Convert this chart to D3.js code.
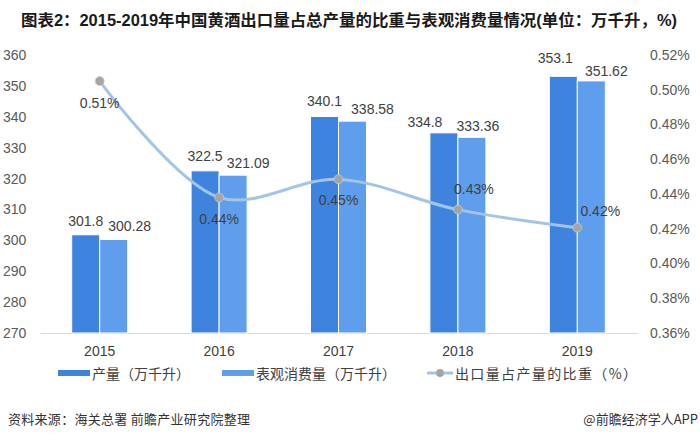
<!DOCTYPE html>
<html><head><meta charset="utf-8">
<script src="https://cdn.jsdelivr.net/npm/d3@7"></script>
<style>html,body{margin:0;padding:0;background:#fff;}svg{display:block;}</style>
</head><body>
<svg id="chart" width="700" height="438"></svg>
<script>
// ---- data ----
const years = ["2015", "2016", "2017", "2018", "2019"];
const production = [301.8, 322.5, 340.1, 334.8, 353.1];
const consumption = [300.28, 321.09, 338.58, 333.36, 351.62];
const exportShare = [0.505, 0.438, 0.4485, 0.431, 0.4206];
const exportShareLabels = ["0.51%", "0.44%", "0.45%", "0.43%", "0.42%"];
const leftTicks = [270, 280, 290, 300, 310, 320, 330, 340, 350, 360];
const rightTicks = [0.36, 0.38, 0.40, 0.42, 0.44, 0.46, 0.48, 0.50, 0.52];
const seriesNames = ["产量（万千升）", "表观消费量（万千升）", "出口量占产量的比重（%）"];

// ---- layout tweaks (label placement) ----
const prodLabelDx = [0, 0, 0, -19, -8];
const prodLabelDy = [-14, -15, -15, -11, -18];
const consLabelDx = [16, 15, 20, 6, 15];
const consLabelDy = [-13, -12, -12, -11, -10];
const lineLabelDx = [0, 0, 0, 16, 23];
const lineLabelDy = [22, 22, 21, -21, -17];

const svg = d3.select("#chart");
const FONT = "'Liberation Sans', 'Noto Sans CJK SC', sans-serif";
const CJK = "'Noto Sans CJK SC', 'Liberation Sans', sans-serif";
const darkBlue = "#3E83DD", lightBlue = "#5E9EEC", lineColor = "#A2C4E6", markerColor = "#A5A5A5";
const textColor = "#404040";

const pLeft = 40, pRight = 637, pTop = 55, pBottom = 333;
const x0 = d3.scaleBand().domain(years).range([pLeft, pRight]).padding(0);
const groupW = 56;
const x1 = d3.scaleBand().domain([0, 1]).range([0, groupW]);
const yL = d3.scaleLinear().domain([270, 360]).range([pBottom, pTop]);
const yR = d3.scaleLinear().domain([0.36, 0.52]).range([pBottom, pTop]);
const cx = d => x0(d) + x0.bandwidth() / 2;

// title
svg.append("text").attr("x", 21).attr("y", 26)
  .attr("font-family", FONT).attr("font-weight", "bold").attr("font-size", 16)
  .attr("fill", "#1a1a1a").attr("textLength", 656).attr("lengthAdjust", "spacingAndGlyphs")
  .text("图表2：2015-2019年中国黄酒出口量占总产量的比重与表观消费量情况(单位：万千升，%)");

// left axis
const gL = svg.append("g").attr("transform", `translate(${pLeft},0)`)
  .call(d3.axisLeft(yL).tickValues(leftTicks).tickSize(0).tickPadding(10).tickFormat(d3.format("d")));
gL.select(".domain").remove();
gL.selectAll("text").attr("font-family", FONT).attr("font-size", 14).attr("fill", "#595959")
  .attr("text-anchor", "start").attr("x", -37);

// right axis
const gR = svg.append("g").attr("transform", `translate(${pRight},0)`)
  .call(d3.axisRight(yR).tickValues(rightTicks).tickSize(0).tickPadding(13).tickFormat(d3.format(".2%")));
gR.select(".domain").remove();
gR.selectAll("text").attr("font-family", FONT).attr("font-size", 14).attr("fill", "#595959")
  .text(d => d.toFixed(2) + "%");

// bottom axis
const gB = svg.append("g").attr("transform", `translate(0,${pBottom})`)
  .call(d3.axisBottom(x0).tickSize(0).tickPadding(13));
gB.select(".domain").attr("stroke", "#D9D9D9").attr("stroke-width", 1);
gB.selectAll("text").attr("font-family", FONT).attr("font-size", 14).attr("fill", textColor);

// bars
const series = [production, consumption];
const colors = [darkBlue, lightBlue];
series.forEach((vals, s) => {
  svg.append("g").selectAll("rect").data(vals).join("rect")
    .attr("x", (d, i) => cx(years[i]) - groupW / 2 + x1(s))
    .attr("y", d => yL(d))
    .attr("width", x1.bandwidth())
    .attr("height", d => yL(270) - yL(d))
    .attr("fill", colors[s]).attr("stroke", "#fff").attr("stroke-width", 1);
});

// bar labels
svg.append("g").selectAll("text").data(production).join("text")
  .attr("x", (d, i) => cx(years[i]) - groupW / 2 + x1(0) + x1.bandwidth() / 2 + prodLabelDx[i])
  .attr("y", (d, i) => yL(d) + prodLabelDy[i])
  .attr("dominant-baseline", "central").attr("text-anchor", "middle")
  .attr("font-family", FONT).attr("font-size", 14).attr("fill", textColor)
  .text(d => d);
svg.append("g").selectAll("text").data(consumption).join("text")
  .attr("x", (d, i) => cx(years[i]) - groupW / 2 + x1(1) + x1.bandwidth() / 2 + consLabelDx[i])
  .attr("y", (d, i) => yL(d) + consLabelDy[i])
  .attr("dominant-baseline", "central").attr("text-anchor", "middle")
  .attr("font-family", FONT).attr("font-size", 14).attr("fill", textColor)
  .text(d => d);

// line
const line = d3.line().x((d, i) => cx(years[i])).y(d => yR(d)).curve(d3.curveCatmullRom.alpha(0.5));
svg.append("path").datum(exportShare).attr("d", line)
  .attr("fill", "none").attr("stroke", lineColor).attr("stroke-width", 3).attr("stroke-linecap", "round");
svg.append("g").selectAll("circle").data(exportShare).join("circle")
  .attr("cx", (d, i) => cx(years[i])).attr("cy", d => yR(d)).attr("r", 4.5)
  .attr("fill", markerColor).attr("stroke", "#C9C9C9").attr("stroke-width", 0.8);
svg.append("g").selectAll("text").data(exportShare).join("text")
  .attr("x", (d, i) => cx(years[i]) + lineLabelDx[i])
  .attr("y", (d, i) => yR(d) + lineLabelDy[i])
  .attr("dominant-baseline", "central").attr("text-anchor", "middle")
  .attr("font-family", FONT).attr("font-size", 14).attr("fill", textColor)
  .text((d, i) => exportShareLabels[i]);

// legend
const lg = svg.append("g").attr("font-family", CJK).attr("font-size", 14).attr("fill", textColor);
const ly = 373;
lg.append("rect").attr("x", 58).attr("y", ly - 3).attr("width", 32).attr("height", 6).attr("fill", darkBlue);
lg.append("text").attr("x", 92).attr("y", ly).attr("dominant-baseline", "central").text(seriesNames[0]);
lg.append("rect").attr("x", 222).attr("y", ly - 3).attr("width", 32).attr("height", 6).attr("fill", lightBlue);
lg.append("text").attr("x", 256).attr("y", ly).attr("dominant-baseline", "central").text(seriesNames[1]);
lg.append("line").attr("x1", 427).attr("x2", 453).attr("y1", ly).attr("y2", ly)
  .attr("stroke", lineColor).attr("stroke-width", 3);
lg.append("circle").attr("cx", 440).attr("cy", ly).attr("r", 4).attr("fill", markerColor);
lg.append("text").attr("x", 455).attr("y", ly).attr("dominant-baseline", "central")
  .attr("textLength", 182).attr("lengthAdjust", "spacing").text(seriesNames[2]);

// footer
svg.append("text").attr("x", 8).attr("y", 418).attr("dominant-baseline", "central")
  .attr("font-family", CJK).attr("font-size", 13).attr("fill", "#333")
  .attr("textLength", 242).attr("lengthAdjust", "spacing")
  .text("资料来源：海关总署 前瞻产业研究院整理");
svg.append("text").attr("x", 698).attr("y", 418).attr("dominant-baseline", "central")
  .attr("text-anchor", "end").attr("font-family", CJK).attr("font-size", 13).attr("fill", "#333")
  .text("@前瞻经济学人APP");
</script>
</body></html>
